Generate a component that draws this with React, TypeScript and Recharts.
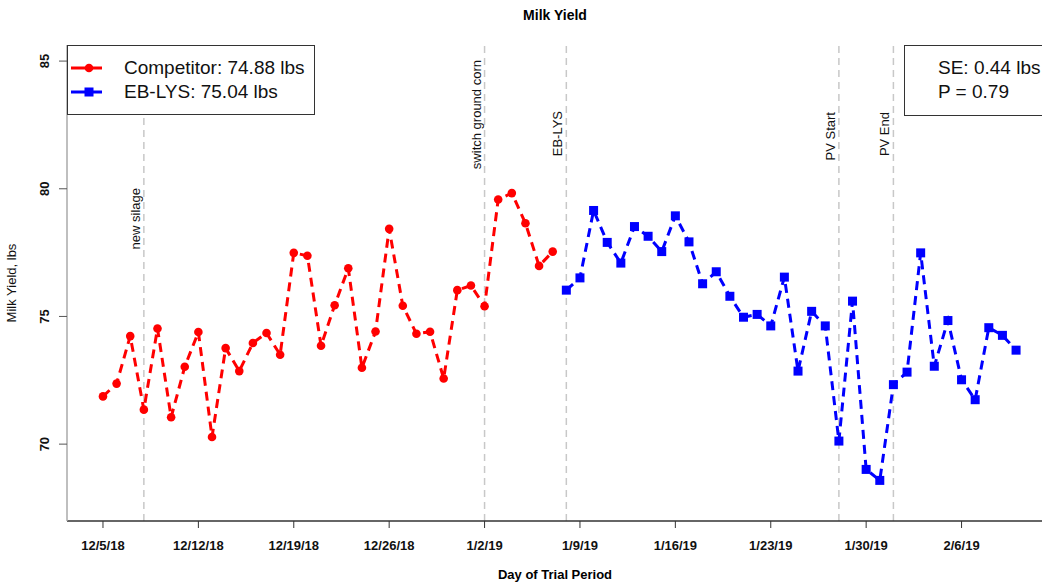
import React from "react";
import { LineChart, Line, XAxis, YAxis, ReferenceLine, Legend } from "recharts";

// day 0 = 12/5/18
const competitor = [
	71.87, 72.37, 74.23, 71.35, 74.53, 71.05, 73.03, 74.39, 70.28, 73.76, 72.86, 73.96, 74.35, 73.5, 77.49, 77.38, 73.85,
	75.44, 76.89, 72.99, 74.41, 78.43, 75.42, 74.32, 74.4, 72.57, 76.03, 76.21, 75.4, 79.58, 79.83, 78.65, 76.98, 77.54,
];
const ebLys = [
	76.03, 76.51, 79.15, 77.9, 77.09, 78.52, 78.14, 77.54, 78.94, 77.92, 76.28, 76.75, 75.79, 74.97, 75.08, 74.63, 76.54,
	72.86, 75.2, 74.63, 70.12, 75.6, 69.01, 68.58, 72.33, 72.82, 77.49, 73.05, 74.84, 72.52, 71.74, 74.56, 74.26, 73.68,
];

const tickDays = [0, 7, 14, 21, 28, 35, 42, 49, 56, 63];
const tickLabels = ["12/5/18", "12/12/18", "12/19/18", "12/26/18", "1/2/19", "1/9/19", "1/16/19", "1/23/19", "1/30/19", "2/6/19"];
const yTicks = [70, 75, 80, 85];

const eventDays = [3, 28, 34, 54, 58];
const eventLabels = ["new silage", "switch ground corn", "EB-LYS", "PV Start", "PV End"];
const eventLabelTop = [188, 60, 111, 112, 112];

const legendNames = ["Competitor: 74.88 lbs", "EB-LYS: 75.04 lbs"];
const statLines = ["SE: 0.44 lbs", "P = 0.79"];

const data = [
	...competitor.map((v, i) => ({ day: i, comp: v })),
	...ebLys.map((v, i) => ({ day: competitor.length + i, eb: v })),
];

const narrow = "'Liberation Sans Narrow', 'Arial Narrow', 'Liberation Sans', Arial, sans-serif";
const sans = "'Liberation Sans', Arial, sans-serif";

const XTick = ({ x, y, payload }: any) => (
	<text x={x} y={y + 20} textAnchor="middle" fontFamily={narrow} fontWeight="bold" fontSize={13} fill="#111">
		{tickLabels[tickDays.indexOf(payload.value)]}
	</text>
);

const YTick = ({ x, y, payload }: any) => (
	<text
		x={x - 10}
		y={y}
		transform={`rotate(-90, ${x - 10}, ${y})`}
		textAnchor="middle"
		fontFamily={narrow}
		fontWeight="bold"
		fontSize={13}
		fill="#111"
	>
		{payload.value}
	</text>
);

const EventLabel = ({ viewBox, idx }: any) => {
	const x = viewBox.x - 4;
	const y = eventLabelTop[idx];
	return (
		<text x={x} y={y} transform={`rotate(-90, ${x}, ${y})`} textAnchor="end" fontFamily={narrow} fontSize={13} fill="#111">
			{eventLabels[idx]}
		</text>
	);
};

const RedDot = ({ cx, cy }: any) => (cx == null || cy == null ? null : <circle cx={cx} cy={cy} r={4.3} fill="#ff0000" />);
const BlueDot = ({ cx, cy }: any) =>
	cx == null || cy == null ? null : <rect x={cx - 4.5} y={cy - 4.5} width={9} height={9} fill="#0000ff" />;

const LegendBox = () => (
	<div
		style={{
			width: 248,
			height: 70,
			border: "1px solid #333",
			background: "#fff",
			boxSizing: "border-box",
			fontFamily: sans,
			fontSize: 19,
			color: "#111",
			paddingTop: 10,
		}}
	>
		{legendNames.map((name, i) => (
			<div key={name} style={{ display: "flex", alignItems: "center", height: 24 }}>
				<svg width={56} height={20}>
					<line x1={3} x2={34} y1={10} y2={10} stroke={i === 0 ? "#ff0000" : "#0000ff"} strokeWidth={3} />
					{i === 0 ? (
						<circle cx={21} cy={10} r={4.3} fill="#ff0000" />
					) : (
						<rect x={16.5} y={5.5} width={9} height={9} fill="#0000ff" />
					)}
				</svg>
				<span>{name}</span>
			</div>
		))}
	</div>
);

export default function App() {
	return (
		<div style={{ position: "absolute", left: 0, top: 0, width: 1042, height: 584, background: "#fff" }}>
			<div
				style={{
					position: "absolute",
					left: 0,
					width: 1110,
					top: 7,
					textAlign: "center",
					fontFamily: narrow,
					fontWeight: "bold",
					fontSize: 14,
				}}
			>
				Milk Yield
			</div>
			<LineChart width={1044} height={584} data={data} margin={{ top: 45, right: 0, left: 0, bottom: 0 }}>
				<XAxis
					dataKey="day"
					type="number"
					domain={[-2.64, 69.05]}
					ticks={tickDays}
					tick={<XTick />}
					tickSize={7}
					height={63}
					axisLine={{ stroke: "#333", strokeWidth: 1.5 }}
					tickLine={{ stroke: "#333" }}
					allowDataOverflow
				/>
				<XAxis
					xAxisId="top"
					orientation="top"
					dataKey="day"
					type="number"
					domain={[-2.64, 69.05]}
					height={0}
					tick={false}
					tickLine={false}
					axisLine={{ stroke: "#aaa", strokeWidth: 1.5 }}
				/>
				<YAxis
					type="number"
					domain={[66.99, 85.63]}
					ticks={yTicks}
					width={67}
					tickSize={8}
					tickMargin={0}
					tick={<YTick />}
					axisLine={{ stroke: "#aaa", strokeWidth: 1.5 }}
					tickLine={{ stroke: "#555" }}
					allowDataOverflow
					label={{
						value: "Milk Yield, lbs",
						angle: -90,
						position: "insideLeft",
						offset: 11,
						style: { fontFamily: narrow, fontSize: 13, fill: "#111", textAnchor: "middle" },
					}}
				/>
				{eventDays.map((d, i) => (
					<ReferenceLine
						key={d}
						x={d}
						stroke="#c8c8c8"
						strokeWidth={1.5}
						strokeDasharray="7 5"
						label={(p: any) => <EventLabel {...p} idx={i} />}
					/>
				))}
				<Line
					dataKey="comp"
					stroke="#ff0000"
					strokeWidth={3}
					strokeDasharray="9 6"
					dot={<RedDot />}
					activeDot={false}
					connectNulls={false}
					isAnimationActive={false}
				/>
				<Line
					dataKey="eb"
					stroke="#0000ff"
					strokeWidth={3}
					strokeDasharray="9 6"
					dot={<BlueDot />}
					activeDot={false}
					connectNulls={false}
					isAnimationActive={false}
				/>
				<Legend
					layout="vertical"
					align="center"
					verticalAlign="middle"
					content={<LegendBox />}
					wrapperStyle={{ left: 67, top: 45, width: 250, height: 72 }}
				/>
			</LineChart>
			<div
				style={{
					position: "absolute",
					left: 904,
					top: 45,
					width: 160,
					height: 71,
					border: "1px solid #333",
					boxSizing: "border-box",
					background: "#fff",
					fontFamily: sans,
					fontSize: 19,
					color: "#111",
					padding: "10px 0 0 33px",
					lineHeight: "24px",
				}}
			>
				{statLines.map((s) => (
					<div key={s}>{s}</div>
				))}
			</div>
			<div
				style={{
					position: "absolute",
					left: 0,
					width: 1110,
					top: 567,
					textAlign: "center",
					fontFamily: narrow,
					fontWeight: "bold",
					fontSize: 13,
				}}
			>
				Day of Trial Period
			</div>
		</div>
	);
}
